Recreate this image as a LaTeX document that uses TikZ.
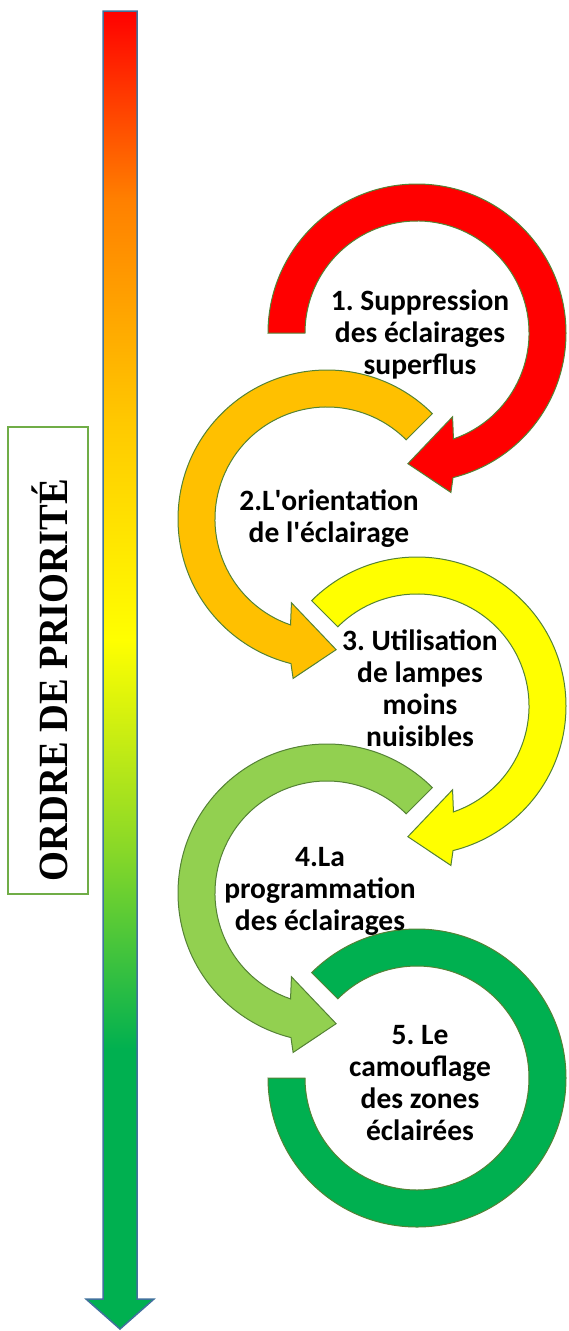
\documentclass[tikz,border=0pt]{standalone}
\usepackage{fontspec}
\setmainfont{Carlito}
\newfontfamily\priofont{Liberation Serif}
\usetikzlibrary{calc}
\frenchspacing

\definecolor{arrowred}{RGB}{255,0,0}
\definecolor{arroworange}{RGB}{255,192,0}
\definecolor{arrowyellow}{RGB}{255,255,0}
\definecolor{arrowlight}{RGB}{146,208,80}
\definecolor{arrowgreen}{RGB}{0,176,80}
\definecolor{ringline}{RGB}{84,130,53}
\definecolor{boxline}{RGB}{112,173,71}
\definecolor{shaftline}{RGB}{65,113,156}

% circular arrow, clockwise, from angle #2 round to the head at the bottom
\newcommand{\ringarrow}[2]{\draw[ring,#1] (#2:112pt) -- (#2:149pt)
  arc[start angle=#2, end angle=-76, radius=149pt] -- (-78:163pt) -- (-94:131pt)
  -- (-67:91pt) -- (-71:112pt) arc[start angle=-71, end angle=#2, radius=112pt] -- cycle;}
\newcommand{\shaftpath}{(103,-11) -- (137,-11) -- (137,-1299) -- (154,-1299)
  -- (120,-1329) -- (86,-1299) -- (103,-1299) -- cycle}

\begin{document}
\begin{tikzpicture}[x=1pt,y=1pt]
	  \tikzstyle{ring}=[draw=ringline,line width=1pt]
	  \tikzstyle{step text}=[align=center,font=\bfseries\fontsize{29.5pt}{32pt}\selectfont]
	  \tikzstyle{prio box}=[rectangle,draw=boxline,line width=2pt,
				  minimum width=80pt,minimum height=467pt]

	\useasboundingbox (0,0) rectangle (569,-1331);

	% priority arrow
	\begin{scope}
		\clip \shaftpath;
		\shade[top color=arrowred,bottom color={rgb,255:red,255;green,128;blue,0}] (80,-10) rectangle (160,-200);
		\shade[top color={rgb,255:red,255;green,128;blue,0},bottom color={rgb,255:red,255;green,200;blue,0}] (80,-200) rectangle (160,-420);
		\shade[top color={rgb,255:red,255;green,200;blue,0},bottom color=arrowyellow] (80,-420) rectangle (160,-640);
		\shade[top color=arrowyellow,bottom color={rgb,255:red,136;green,216;blue,40}] (80,-640) rectangle (160,-850);
		\shade[top color={rgb,255:red,136;green,216;blue,40},bottom color=arrowgreen] (80,-850) rectangle (160,-1050);
		\fill[arrowgreen] (80,-1050) rectangle (160,-1331);
	\end{scope}
	\draw[shaftline,line width=1.5pt] \shaftpath;

	\node (box)[prio box] at (48,-660.5) {};
	\node (prio)[rotate=90,font=\priofont\bfseries\fontsize{38.5pt}{40pt}\selectfont] at (50,-680) {\scalebox{1}[1.08]{ORDRE DE PRIORITÉ}};

	\coordinate (c1) at (417,-333);
	\coordinate (c2) at (327,-519);
	\coordinate (c3) at (417,-706);
	\coordinate (c4) at (327,-893);
	\coordinate (c5) at (417,-1078);

	\ringarrow{shift={(c1)},fill=arrowred}{180}
	\ringarrow{shift={(c2)},xscale=-1,fill=arroworange}{135}
	\ringarrow{shift={(c3)},fill=arrowyellow}{135}
	\ringarrow{shift={(c4)},xscale=-1,fill=arrowlight}{135}
	\draw[ring,shift={(c5)},fill=arrowgreen] (135:112pt) -- (135:149pt)
		arc[start angle=135, end angle=-180, radius=149pt] -- (180:112pt)
		arc[start angle=-180, end angle=135, radius=112pt] -- cycle;

	\node (step1)[step text] at (420,-334) {1. Suppression\\des éclairages\\superflus};
	\node (step2)[step text] at (329,-519) {2.L\textquotesingle orientation\\de l\textquotesingle éclairage};
	\node (step3)[step text] at (420,-688) {3. Utilisation\\de lampes\\moins\\nuisibles};
	\node (step4)[step text] at (320,-891) {4.La\\programmation\\des éclairages};
	\node (step5)[step text] at (420,-1083) {5. Le\\camouflage\\des zones\\éclairées};
\end{tikzpicture}
\end{document}
